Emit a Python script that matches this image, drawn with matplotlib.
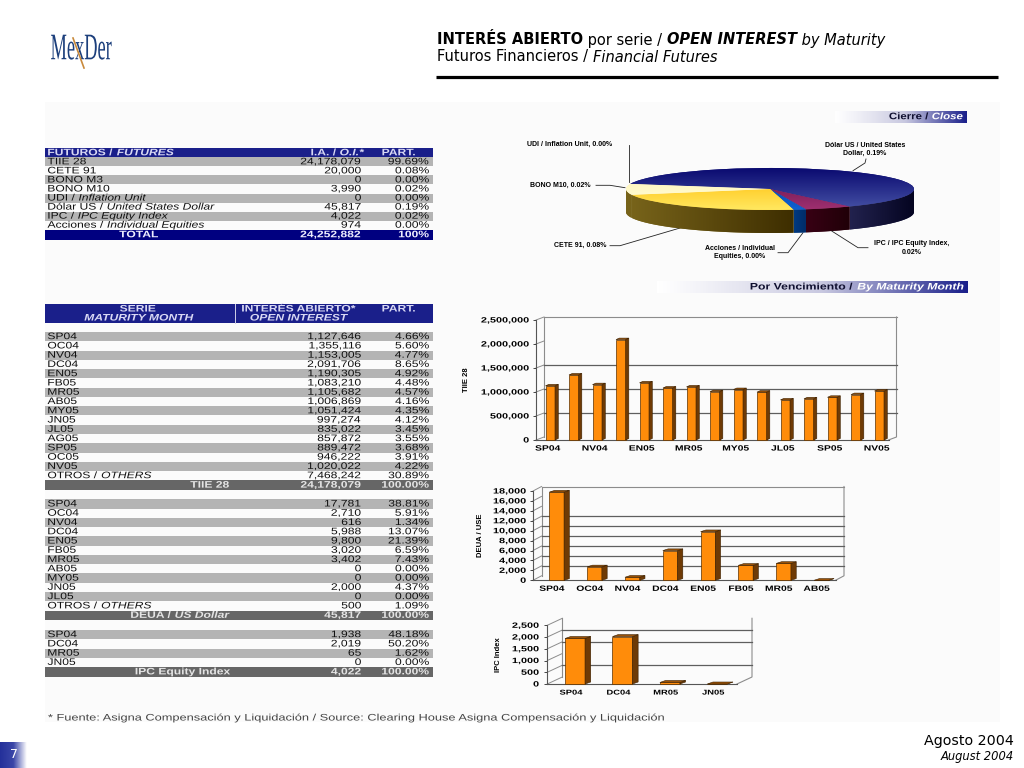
import numpy as np
import matplotlib
matplotlib.use("Agg")
import matplotlib.pyplot as plt
from matplotlib.colors import LinearSegmentedColormap
from matplotlib.patches import Polygon, Rectangle
from matplotlib.patheffects import AbstractPathEffect
from matplotlib.transforms import Affine2D

W, H = 1024, 768

# table 1: futures summary
fut_names = ["TIIE 28", "CETE 91", "BONO M3", "BONO M10", "UDI / Inflation Unit",
             "Dólar US / United States Dollar", "IPC / IPC Equity Index",
             "Acciones / Individual Equities"]
fut_oi = ["24,178,079", "20,000", "0", "3,990", "0", "45,817", "4,022", "974"]
fut_part = ["99.69%", "0.08%", "0.00%", "0.02%", "0.00%", "0.19%", "0.02%", "0.00%"]

# table 2: by maturity
tiie_months = ["SP04", "OC04", "NV04", "DC04", "EN05", "FB05", "MR05", "AB05", "MY05",
               "JN05", "JL05", "AG05", "SP05", "OC05", "NV05"]
tiie_values = [1127646, 1355116, 1153005, 2091706, 1190305, 1083210, 1105682, 1006869,
               1051424, 997274, 835022, 857872, 889472, 946222, 1020022]
tiie_part = ["4.66%", "5.60%", "4.77%", "8.65%", "4.92%", "4.48%", "4.57%", "4.16%",
             "4.35%", "4.12%", "3.45%", "3.55%", "3.68%", "3.91%", "4.22%"]

deua_months = ["SP04", "OC04", "NV04", "DC04", "EN05", "FB05", "MR05", "AB05", "MY05",
               "JN05", "JL05"]
deua_values = [17781, 2710, 616, 5988, 9800, 3020, 3402, 0, 0, 2000, 0]
deua_part = ["38.81%", "5.91%", "1.34%", "13.07%", "21.39%", "6.59%", "7.43%", "0.00%",
             "0.00%", "4.37%", "0.00%"]

ipc_months = ["SP04", "DC04", "MR05", "JN05"]
ipc_values = [1938, 2019, 65, 0]
ipc_part = ["48.18%", "50.20%", "1.62%", "0.00%"]

# pie slices as drawn (shares read from the rim, the drawing does not follow the labels)
pie_shares = [61.8, 5.3, 1.4, 23.1, 8.4]

NAVY = "#1a1f8a"
GREY = "#b4b4b4"
DARK = "#666666"
FONT = "Liberation Sans"
TITLE_FONT = "DejaVu Sans"
SX = 1.28   # the slide text is Arial squeezed wide


class Stretch(AbstractPathEffect):
    # widen the glyph outlines, the Text stays a normal Text
    def __init__(self, sx, anchor="left"):
        super().__init__()
        self.sx = sx
        self.anchor = anchor

    def draw_path(self, renderer, gc, tpath, affine, rgbFace=None):
        ext = tpath.get_extents()
        xa = {"left": ext.x0, "right": ext.x1, "center": (ext.x0 + ext.x1) / 2}[self.anchor]
        tr = Affine2D().translate(-xa, 0).scale(self.sx, 1).translate(xa, 0)
        renderer.draw_path(gc, tpath, tr + affine, rgbFace)


fig = plt.figure(figsize=(W / 100, H / 100), dpi=100, facecolor="white")
ax = fig.add_axes([0, 0, 1, 1])
ax.set_xlim(0, W)
ax.set_ylim(H, 0)
ax.axis("off")
renderer = fig.canvas.get_renderer()


def put_runs(x, y, runs, size=6.8, color="#111111", ha="left", sx=SX, fit=None, zorder=5):
    # runs = (text, weight, style[, colour]); pieces are placed one after the other
    pieces = []
    total = 0
    for r in runs:
        c = r[3] if len(r) > 3 else color
        t = ax.text(x, y, r[0], fontsize=size, fontweight=r[1], fontstyle=r[2], color=c,
                    family=FONT, va="center", ha="left", zorder=zorder)
        w = t.get_window_extent(renderer).width
        pieces.append((t, w))
        total += w
    if fit is not None:
        sx = fit / total
    total *= sx
    cur = x
    if ha == "center":
        cur = x - total / 2
    elif ha == "right":
        cur = x - total
    for t, w in pieces:
        t.set_x(cur)
        t.set_path_effects([Stretch(sx, "left")])
        cur += w * sx


def split_name(name):
    if " / " in name:
        a, b = name.split(" / ")
        return [(a + " / ", "normal", "normal"), (b, "normal", "italic")]
    return [(name, "normal", "normal")]


def band(y0, y1, color):
    ax.add_patch(Rectangle((45, y0), 387.7, y1 - y0, fc=color, ec="none", zorder=2))


def num(x, y, s, color="#111111", weight="normal"):
    put_runs(x, y, [(s, weight, "normal")], color=color, ha="right")


def table_rows(y0, names, oi, part, rh=9.27):
    for i, (n, o, p) in enumerate(zip(names, oi, part)):
        y = y0 + i * rh
        if i % 2 == 0:
            band(y, y + rh, GREY)
        put_runs(47.5, y + rh / 2, split_name(n))
        num(361.5, y + rh / 2, o)
        num(429.5, y + rh / 2, p)
    return y0 + len(names) * rh


def total_row(y0, xc, runs, oi, part, rh=9.6, color=DARK, txt="#e4e4e4"):
    band(y0, y0 + rh, color)
    put_runs(xc, y0 + rh / 2, runs, color=txt, ha="center")
    num(361.5, y0 + rh / 2, oi, color=txt, weight="bold")
    num(429.5, y0 + rh / 2, part, color=txt, weight="bold")


def head_band(x0, x1, y0, y1, runs, width):
    cmap = LinearSegmentedColormap.from_list("hd", ["#ffffff", "#c8c8e0", "#1a1f8a"])
    ax.imshow(np.linspace(0, 1, 256)[None, :] ** 1.1, extent=(x0, x1, y1, y0), cmap=cmap,
              aspect="auto", zorder=2)
    ax.set_xlim(0, W)
    ax.set_ylim(H, 0)
    put_runs(x1 - 4, (y0 + y1) / 2, runs, size=6.8, ha="right", fit=width)


# page background, title, logo
ax.add_patch(Rectangle((45, 102), 955, 620, fc="#fbfbfb", ec="none", zorder=0))
title_1 = [("INTERÉS ABIERTO", "bold", "normal"), (" por serie / ", "normal", "normal"),
           ("OPEN INTEREST", "bold", "italic"), (" by Maturity", "normal", "italic")]
title_2 = [("Futuros Financieros / ", "normal", "normal"), ("Financial Futures", "normal", "italic")]
cur = 437
for s, w, st in title_1:
    t = ax.text(cur, 40, s, fontsize=10.5, fontweight=w, fontstyle=st, family=TITLE_FONT, va="center")
    cur += t.get_window_extent(renderer).width
cur = 437
for s, w, st in title_2:
    t = ax.text(cur, 57, s, fontsize=10.5, fontweight=w, fontstyle=st, family=TITLE_FONT, va="center")
    cur += t.get_window_extent(renderer).width
ax.plot([436, 998], [76.7, 76.7], color="black", lw=2.3, solid_capstyle="butt")

logo = ax.text(81, 50, "MexDer", fontsize=27, color="#1c3f7c", ha="center", va="center",
               family="Liberation Serif", zorder=3)
logo.set_path_effects([Stretch(0.49, "center")])
ax.plot([73, 84], [38, 68], color="#c98a3c", lw=1.2, zorder=4)

# table 1
ax.add_patch(Rectangle((45, 148), 387.7, 9.3, fc=NAVY, ec="none", zorder=2))
LH = "#d8d8f4"
put_runs(47.5, 152.8, [("FUTUROS / ", "bold", "normal"), ("FUTURES", "bold", "italic")], color=LH)
put_runs(364, 152.8, [("I.A. / ", "bold", "normal"), ("O.I.*", "bold", "italic")], color=LH, ha="right")
put_runs(399, 152.8, [("PART.", "bold", "normal")], color=LH, ha="center")
table_rows(157.3, fut_names, fut_oi, fut_part, rh=9.05)
total_row(229.8, 139, [("TOTAL", "bold", "normal")], "24,252,882", "100%", rh=9.9,
          color="#000080", txt="#eeeeff")

# table 2 header
ax.add_patch(Rectangle((45, 304), 387.7, 19, fc=NAVY, ec="none", zorder=2))
ax.plot([235, 235], [304, 323], color="#d0d0e8", lw=0.7, zorder=3)
put_runs(138, 309, [("SERIE", "bold", "normal")], color=LH, ha="center")
put_runs(139, 318, [("MATURITY MONTH", "bold", "italic")], color=LH, ha="center")
put_runs(299, 309, [("INTERÉS ABIERTO*", "bold", "normal")], color=LH, ha="center")
put_runs(299, 318, [("OPEN INTEREST", "bold", "italic")], color=LH, ha="center")
put_runs(399, 309, [("PART.", "bold", "normal")], color=LH, ha="center")

# maturity blocks
y = table_rows(332, tiie_months + ["OTROS / OTHERS"],
               [f"{v:,}" for v in tiie_values] + ["7,468,242"], tiie_part + ["30.89%"])
total_row(y, 210, [("TIIE 28", "bold", "normal")], "24,178,079", "100.00%")
y = table_rows(499.3, deua_months + ["OTROS / OTHERS"],
               [f"{v:,}" for v in deua_values] + ["500"], deua_part + ["1.09%"])
total_row(y, 180, [("DEUA / ", "bold", "normal"), ("US Dollar", "bold", "italic")], "45,817", "100.00%")
y = table_rows(630, ipc_months, [f"{v:,}" for v in ipc_values], ipc_part)
total_row(y, 183, [("IPC Equity Index", "bold", "normal")], "4,022", "100.00%")

# section bands
head_band(835, 967, 110.7, 122.7, [("Cierre / ", "bold", "normal", "#101030"),
                                   ("Close", "bold", "italic", "white")], 74)
head_band(657, 968, 281, 293, [("Por Vencimiento / ", "bold", "normal", "#101030"),
                               ("By Maturity Month", "bold", "italic", "white")], 214)

# footer
put_runs(48, 718, [("* Fuente: Asigna Compensación y Liquidación / Source: Clearing House Asigna "
                    "Compensación y Liquidación", "normal", "normal")], color="#444444", fit=619)
ax.text(1014, 741, "Agosto 2004", fontsize=10.3, ha="right", va="center", family=TITLE_FONT)
ax.text(1014, 756.5, "August 2004", fontsize=8.3, style="italic", ha="right", va="center", family=TITLE_FONT)
tab = LinearSegmentedColormap.from_list("tab", ["#24309a", "#3a46a8", "#ffffff"])
ax.imshow(np.linspace(0, 1, 64)[None, :], extent=(0, 27, 768, 742), cmap=tab, aspect="auto", zorder=2)
ax.set_xlim(0, W)
ax.set_ylim(H, 0)
ax.text(14, 755, "7", fontsize=9, color="white", ha="center", va="center", family=TITLE_FONT, zorder=5)


def bar3d(box, values, labels, ticks, grid_vals, depth, side, bar_w, shift, label_every,
          ylab, ylab_x, pad=4, xlab_size=5.5, top_line=True):
    x0, x1, y0, ytop = box
    n = len(values)
    ymax = ticks[-1]
    a = fig.add_axes([x0 / W, 1 - y0 / H, (x1 - x0) / W, (y0 - ytop) / H])
    a.patch.set_alpha(0)
    a.set_xlim(0, n)
    a.set_ylim(0, ymax)
    ux = n / (x1 - x0)
    uy = ymax / (y0 - ytop)
    dx, dy = depth[0] * ux, depth[1] * uy
    sx, sy = side[0] * ux, side[1] * uy
    wall = "#8c8c8c"
    # back wall and floor outline
    a.plot([dx, dx], [dy, ymax + dy], color=wall, lw=0.8, clip_on=False, zorder=1)
    a.plot([n + dx, n + dx, n], [ymax + dy, dy, 0], color=wall, lw=0.8, clip_on=False, zorder=1)
    if top_line:
        a.plot([dx, n + dx], [ymax + dy, ymax + dy], color=wall, lw=0.8, clip_on=False, zorder=1)
    a.plot([0, n], [0, 0], color="#555555", lw=0.8, clip_on=False, zorder=2)
    a.plot([0, 0], [0, ymax], color="#555555", lw=0.8, clip_on=False, zorder=2)
    for v in ticks:
        a.plot([0, dx], [v, v + dy], color=wall, lw=0.7, clip_on=False, zorder=1)
    for v in grid_vals:
        a.plot([dx, n + dx], [v + dy, v + dy], color="#5e5e5e", lw=0.9, clip_on=False, zorder=1)
    # bars
    xs = np.arange(n) + 0.5 + shift * ux
    bw = bar_w * ux
    a.bar(xs, values, width=bw, color="#ff8c0a", edgecolor="#5a3000", linewidth=0.5,
          zorder=3, clip_on=False)
    for xc, v in zip(xs, values):
        l, r = xc - bw / 2, xc + bw / 2
        a.fill([r, r + sx, r + sx, r], [0, sy, v + sy, v], fc="#6e3a05", ec="#3c2000", lw=0.4,
               zorder=3, clip_on=False)
        a.fill([l, l + sx, r + sx, r], [v, v + sy, v + sy, v], fc="#9a5208", ec="#3c2000", lw=0.4,
               zorder=3, clip_on=False)
    for s in a.spines.values():
        s.set_visible(False)
    a.set_yticks(ticks)
    a.set_yticklabels([f"{v:,}" for v in ticks], fontsize=5.5, fontweight="bold", family=FONT)
    a.tick_params(axis="y", length=2, pad=pad, width=0.5)
    for t in a.get_yticklabels():
        t.set_path_effects([Stretch(1.42, "right")])
    pos = np.arange(n)[::label_every] + 0.5
    a.set_xticks(pos)
    a.set_xticklabels(labels[::label_every], fontsize=xlab_size, fontweight="bold", family=FONT)
    a.tick_params(axis="x", length=0, pad=4)
    for t in a.get_xticklabels():
        t.set_path_effects([Stretch(1.35, "center")])
    ax.text(ylab_x, (y0 + ytop) / 2, ylab, rotation=90, fontsize=5.5, fontweight="bold", ha="center",
            va="center", family=FONT)
    return a


bar3d((536, 888.5, 440, 320), tiie_values, tiie_months, [0, 500000, 1000000, 1500000, 2000000, 2500000],
      [500000, 1000000, 1500000], (8, 3), (3.3, 1.5), 9.5, 2.5, 2, "TIIE 28", 467, pad=3)
bar3d((533, 835.5, 580.3, 491), deua_values[:8], deua_months[:8],
      list(range(0, 18001, 2000)), list(range(2000, 12001, 2000)), (8.5, 4.5), (5.3, 1.7), 14.7, 4.8, 1,
      "DEUA / USE", 480, pad=3)
bar3d((547.3, 737, 684, 625.3), ipc_values, ipc_months, [0, 500, 1000, 1500, 2000, 2500],
      [500, 1500, 2000], (15, 7), (5.7, 2), 20, 4, 1, "IPC Index", 498, pad=4, xlab_size=5,
      top_line=False)

# pie: flattened pie on its own axes, the near rim drawn from the same shares
RX, RY, DEPTH = 144, 21, 23
depth = DEPTH / RY
pa = fig.add_axes([626 / W, 1 - (210 + DEPTH) / H, 2 * RX / W, (2 * RY + DEPTH) / H])
pie_top = [("#0a0a70", "#4652a6"), ("#5c0f4a", "#a03070"), ("#0040a0", "#1060d0"),
           ("#ffb800", "#ffe860"), ("#fff4b0", "#fffde0")]
pie_side = [("#22224e", "#040420"), ("#380014", "#200008"), ("#003a80", "#002a66"),
            ("#77631a", "#3e2e00"), ("#77631a", "#77631a")]
wedges, _ = pa.pie(pie_shares, startangle=166, counterclock=False, radius=1,
                   colors=[c[0] for c in pie_top])
pa.set_aspect("auto")
grad = np.linspace(0, 1, 128)
for w, (c0, c1) in zip(wedges, pie_top):
    cm = LinearSegmentedColormap.from_list("w", [c0, c1])
    im = pa.imshow(grad[:, None], extent=(-1, 1, -1, 1), origin="upper", cmap=cm, aspect="auto",
                   zorder=2)
    im.set_clip_path(w)

edges = 166 - np.cumsum([0] + pie_shares) * 3.6
for i, (c0, c1) in enumerate(pie_side):
    a0, a1 = edges[i], edges[i + 1]
    # keep only the part of the slice on the near rim
    lo, hi = max(a1, -180.0), min(a0, 0.0)
    if hi <= lo:
        continue
    t = np.radians(np.linspace(lo, hi, 60))
    px = np.r_[np.cos(t), np.cos(t[::-1])]
    py = np.r_[np.sin(t), np.sin(t[::-1]) - depth]
    poly = Polygon(np.c_[px, py], closed=True, fc=c0, ec="none", zorder=1)
    pa.add_patch(poly)
    cm = LinearSegmentedColormap.from_list("s", [c0, c1])
    im = pa.imshow(grad[None, :], extent=(px.min(), px.max(), -1 - depth, 0), cmap=cm,
                   aspect="auto", zorder=1)
    im.set_clip_path(poly)
pa.set_xlim(-1, 1)
pa.set_ylim(-1 - depth, 1)
pa.patch.set_alpha(0)
pa.set_axis_off()

# pie labels and leaders
leaders = [
    ([629.3, 629.3], [145, 181.7]),
    ([866, 865, 853], [159, 163, 170.7]),
    ([596, 610, 625], [185.3, 185.3, 187.7]),
    ([610, 620, 680], [245.7, 245.7, 228]),
    ([778, 788, 803], [252.7, 252.7, 232.7]),
    ([868, 858, 831.7], [247.7, 247.7, 231]),
]
for lx, ly in leaders:
    ax.plot(lx, ly, color="#222222", lw=0.6, zorder=1)
lab = dict(fontsize=5, fontweight="bold", family=FONT, va="center", zorder=6)
ax.text(527, 144, "UDI / Inflation Unit, 0.00%", ha="left", **lab)
ax.text(865, 149.5, "Dólar US / United States\nDollar, 0.19%", ha="center", linespacing=1.25, **lab)
ax.text(530, 185, "BONO M10, 0.02%", ha="left", **lab)
ax.text(554, 245.7, "CETE 91, 0.08%", ha="left", **lab)
ax.text(740, 252.5, "Acciones / Individual\nEquities, 0.00%", ha="center", linespacing=1.25, **lab)
ax.text(911.7, 248, "IPC / IPC Equity Index,\n0.02%", ha="center", linespacing=1.25, **lab)

fig.savefig("out.png", dpi=100)
